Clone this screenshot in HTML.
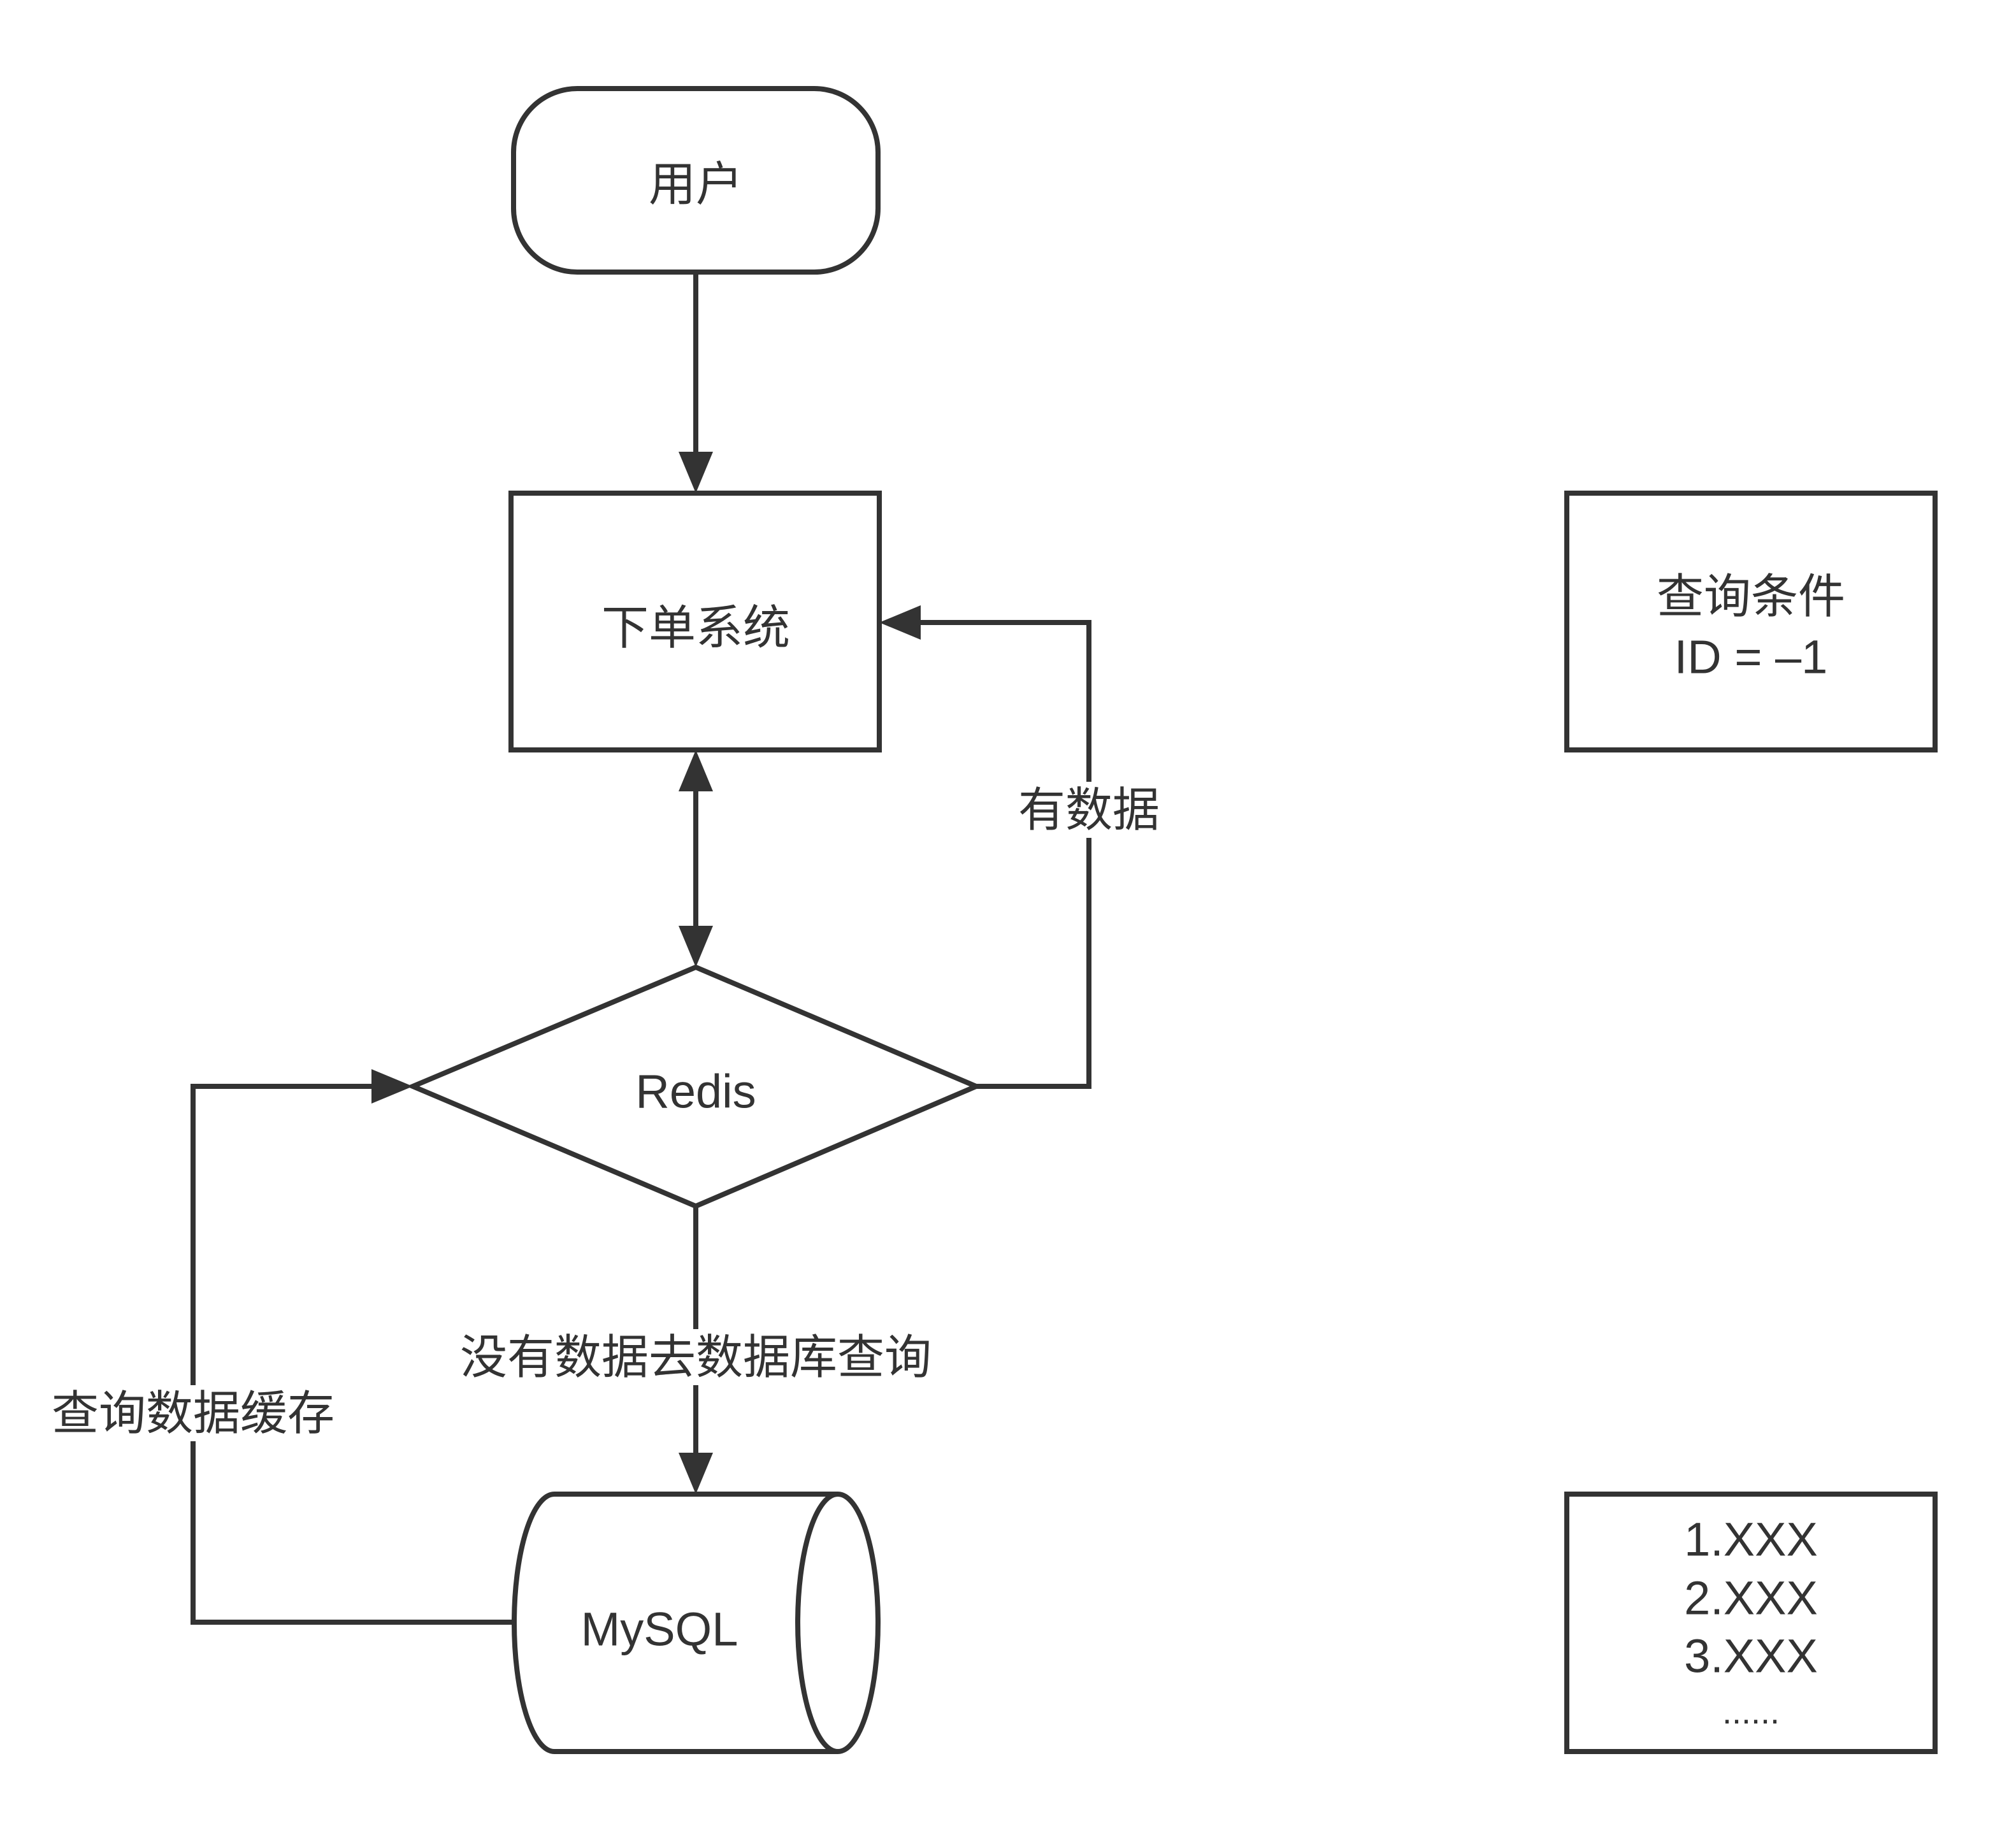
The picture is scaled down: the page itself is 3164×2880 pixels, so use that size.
<!DOCTYPE html>
<html><head><meta charset="utf-8"><style>html,body{margin:0;padding:0;background:#fff}svg{display:block}</style></head>
<body>
<svg width="3164" height="2880" viewBox="0 0 3164 2880" xmlns="http://www.w3.org/2000/svg">
<g transform="translate(-5,-3)">
<g fill="none" stroke="#333" stroke-width="8">
<rect x="811" y="142" width="572" height="288" rx="100" ry="100"/>
<rect x="807" y="777" width="578" height="403"/>
<polygon points="1097,1521 1537,1708 1097,1896 653,1708"/>
<rect x="2464" y="777" width="578" height="403"/>
<rect x="2464" y="2348" width="578" height="404"/>
<path d="M875,2348 L1320,2348 M875,2752 L1320,2752 M875,2348 A63,202 0 0 0 875,2752"/>
<ellipse cx="1320" cy="2550" rx="63" ry="202"/>
<path d="M1097,430 L1097,720"/>
<path d="M1097,1240 L1097,1462"/>
<path d="M1537,1708 L1714,1708 L1714,980 L1445,980"/>
<path d="M1097,1896 L1097,2290"/>
<path d="M811,2549 L308,2549 L308,1708 L595,1708"/>
</g>
<g fill="#333">
<polygon points="1097,777 1070,712 1124,712"/>
<polygon points="1097,1180 1070,1245 1124,1245"/>
<polygon points="1097,1521 1070,1456 1124,1456"/>
<polygon points="1385,980 1450,953 1450,1007"/>
<polygon points="1097,2348 1070,2283 1124,2283"/>
<polygon points="653,1708 588,1681 588,1735"/>
</g>
<g font-family="'Liberation Sans','Noto Sans CJK SC',sans-serif" font-size="74" fill="#333" text-anchor="middle" dominant-baseline="central">
<text x="1097" y="292">用户</text>
<text x="1097" y="988">下单系统</text>
<text x="1097" y="1716">Redis</text>
<text x="1040" y="2560">MySQL</text>
<rect x="1590" y="1230" width="248" height="88" fill="#fff"/>
<text x="1714" y="1274">有数据</text>
<rect x="715" y="2089" width="764" height="88" fill="#fff"/>
<text x="1097" y="2133">没有数据去数据库查询</text>
<rect x="80" y="2177" width="456" height="88" fill="#fff"/>
<text x="308" y="2221">查询数据缓存</text>
<text x="2753" y="939">查询条件</text>
<text x="2753" y="1034">ID = –1</text>
<text x="2753" y="2419">1.XXX</text>
<text x="2753" y="2511">2.XXX</text>
<text x="2753" y="2602">3.XXX</text>
<text x="2753" y="2690" font-size="54">......</text>
</g>
</g>
</svg>
</body></html>
